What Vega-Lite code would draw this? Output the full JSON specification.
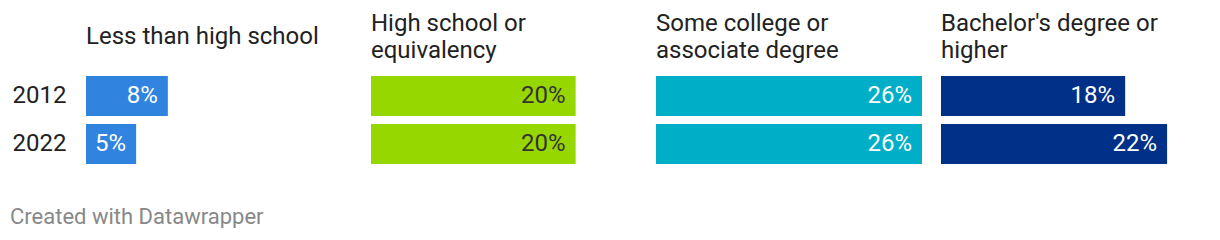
{
  "$schema": "https://vega.github.io/schema/vega-lite/v6.json",
  "padding": {"left": 10, "top": 12, "right": 0, "bottom": 0},
  "background": "white",
  "config": {"font": "Roboto", "view": {"stroke": null},
    "title": {"fontSize": 24, "fontWeight": "normal", "color": "#222222", "anchor": "start", "frame": "group", "lineHeight": 26.5, "baseline": "alphabetic"},
    "axisY": {"title": null, "domain": false, "ticks": false, "tickSize": 0, "labelAlign": "left", "labelPadding": 74, "labelFontSize": 24, "labelColor": "#222222", "labelBaseline": "middle"},
    "scale": {"bandPaddingInner": 0.1667, "bandPaddingOuter": 0}
  },
  "title": {"text": "Created with Datawrapper", "orient": "bottom", "anchor": "start", "frame": "bounds", "fontSize": 22, "fontWeight": "normal", "color": "#888888", "offset": 65, "dx": -2, "baseline": "bottom", "lineHeight": 22},
  "data": {"values": [
    {"category": "Less than high school", "year": "2012", "value": 0.080},
    {"category": "Less than high school", "year": "2022", "value": 0.049},
    {"category": "High school or equivalency", "year": "2012", "value": 0.200},
    {"category": "High school or equivalency", "year": "2022", "value": 0.200},
    {"category": "Some college or associate degree", "year": "2012", "value": 0.260},
    {"category": "Some college or associate degree", "year": "2022", "value": 0.260},
    {"category": "Bachelor's degree or higher", "year": "2012", "value": 0.180},
    {"category": "Bachelor's degree or higher", "year": "2022", "value": 0.221}
  ]},
  "spacing": 19,
  "hconcat": [
    {
      "title": {"text": "Less than high school", "offset": 27},
      "width": 266, "height": {"step": 48},
      "transform": [{"filter": "datum.category == 'Less than high school'"}],
      "encoding": {"y": {"field": "year", "type": "nominal"}},
      "layer": [
        {"mark": {"type": "bar", "color": "#3183e0"},
         "encoding": {"x": {"field": "value", "type": "quantitative", "scale": {"domain": [0, 0.26]}, "axis": null}}},
        {"mark": {"type": "text", "align": "right", "dx": -10, "baseline": "middle", "fontSize": 24, "color": "#ffffff"},
         "encoding": {"x": {"field": "value", "type": "quantitative"}, "text": {"field": "value", "type": "quantitative", "format": ".0%"}}}
      ]
    },
    {
      "title": {"text": ["High school or", "equivalency"], "offset": 13.5},
      "width": 266, "height": {"step": 48},
      "transform": [{"filter": "datum.category == 'High school or equivalency'"}],
      "encoding": {"y": {"field": "year", "type": "nominal", "axis": null}},
      "layer": [
        {"mark": {"type": "bar", "color": "#97d700"},
         "encoding": {"x": {"field": "value", "type": "quantitative", "scale": {"domain": [0, 0.26]}, "axis": null}}},
        {"mark": {"type": "text", "align": "right", "dx": -10, "baseline": "middle", "fontSize": 24, "color": "#333333"},
         "encoding": {"x": {"field": "value", "type": "quantitative"}, "text": {"field": "value", "type": "quantitative", "format": ".0%"}}}
      ]
    },
    {
      "title": {"text": ["Some college or", "associate degree"], "offset": 13.5},
      "width": 266, "height": {"step": 48},
      "transform": [{"filter": "datum.category == 'Some college or associate degree'"}],
      "encoding": {"y": {"field": "year", "type": "nominal", "axis": null}},
      "layer": [
        {"mark": {"type": "bar", "color": "#00aec7"},
         "encoding": {"x": {"field": "value", "type": "quantitative", "scale": {"domain": [0, 0.26]}, "axis": null}}},
        {"mark": {"type": "text", "align": "right", "dx": -10, "baseline": "middle", "fontSize": 24, "color": "#ffffff"},
         "encoding": {"x": {"field": "value", "type": "quantitative"}, "text": {"field": "value", "type": "quantitative", "format": ".0%"}}}
      ]
    },
    {
      "title": {"text": ["Bachelor's degree or", "higher"], "offset": 13.5},
      "width": 266, "height": {"step": 48},
      "transform": [{"filter": "datum.category == \"Bachelor's degree or higher\""}],
      "encoding": {"y": {"field": "year", "type": "nominal", "axis": null}},
      "layer": [
        {"mark": {"type": "bar", "color": "#003087"},
         "encoding": {"x": {"field": "value", "type": "quantitative", "scale": {"domain": [0, 0.26]}, "axis": null}}},
        {"mark": {"type": "text", "align": "right", "dx": -10, "baseline": "middle", "fontSize": 24, "color": "#ffffff"},
         "encoding": {"x": {"field": "value", "type": "quantitative"}, "text": {"field": "value", "type": "quantitative", "format": ".0%"}}}
      ]
    }
  ]
}
